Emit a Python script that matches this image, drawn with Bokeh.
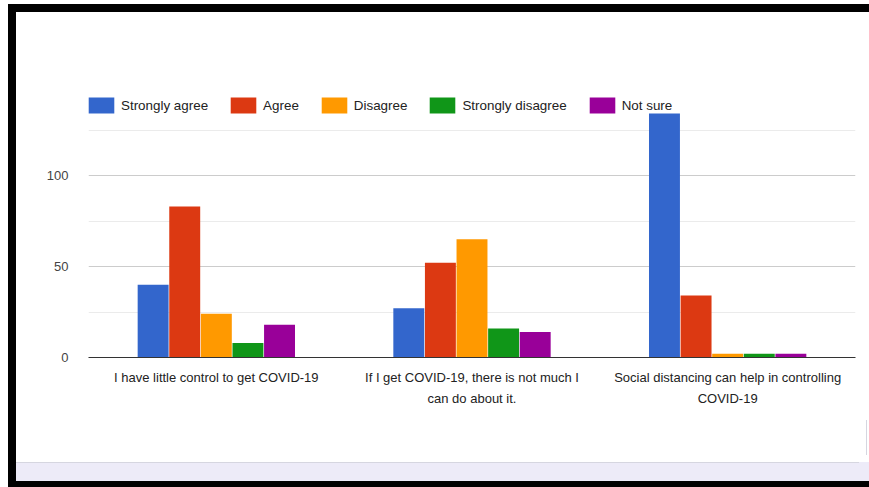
from bokeh.plotting import figure
from bokeh.models import (FactorRange, Range1d, FixedTicker, Legend, LegendItem,
                          ColumnDataSource)
from bokeh.transform import dodge
from bokeh.embed import file_html
from bokeh.resources import INLINE

categories = ["I have little control to get COVID-19",
              "If I get COVID-19, there is not much I\ncan do about it.",
              "Social distancing can help in controlling\nCOVID-19"]
series_names = ["Strongly agree", "Agree", "Disagree", "Strongly disagree", "Not sure"]
strongly_agree = [40, 27, 134]
agree = [83, 52, 34]
disagree = [24, 65, 2]
strongly_disagree = [8, 16, 2]
not_sure = [18, 14, 2]
y_ticks = [0, 50, 100]
y_minor_ticks = [25, 75, 125]
colors = ["#3366cc", "#dc3912", "#ff9900", "#109618", "#990099"]

FONT = "Liberation Sans, Arial, sans-serif"
W, H = 869, 487

p = figure(width=W, height=H, x_range=FactorRange(factors=categories, range_padding=0),
           y_range=Range1d(0, 150), output_backend="svg", toolbar_location=None,
           min_border_left=88, min_border_right=14, min_border_top=84, min_border_bottom=130)
p.background_fill_color = "white"
p.border_fill_alpha = 0
p.outline_line_color = None

# page decorations behind the transparent canvas border
def layer(color, x, y, w, h):
    return f"linear-gradient({color},{color}) {x}px {y}px / {w}px {h}px no-repeat"

p.styles = {"background": ", ".join([
    layer("black", 8, 4, W - 8, 8),
    layer("black", 8, 4, 8, H - 4),
    layer("black", 8, 481, W - 8, 6),
    layer("#d6d6e0", 16, 462, 843, 1),
    layer("#d6d6e0", 866, 420, 1, 35),
    layer("#edebf8", 16, 462, W - 16, 19),
    layer("white", 16, 12, 850, 450),
    "white",
]), "position": "absolute", "left": "0px", "top": "0px"}

data = dict(cat=categories, sa=strongly_agree, ag=agree, di=disagree,
            sd=strongly_disagree, ns=not_sure)
src = ColumnDataSource(data)
cols = ["sa", "ag", "di", "sd", "ns"]
slot = 0.1236
items = []
for i, (c, name, color) in enumerate(zip(cols, series_names, colors)):
    r = p.vbar(x=dodge("cat", (i - 2) * slot, range=p.x_range), top=c, width=0.121,
               source=src, fill_color=color, line_color=None)
    items.append(LegendItem(label=name, renderers=[r]))

legend = Legend(items=items, orientation="horizontal", location=(-3, 242),
                glyph_width=32, glyph_height=20, label_standoff=4, spacing=19,
                padding=0, margin=0, border_line_color=None, background_fill_alpha=0,
                label_text_font=FONT, label_text_font_size="13.4px",
                label_text_color="#222222", label_height=20)
p.add_layout(legend, "center")

# y axis
p.yaxis.ticker = FixedTicker(ticks=y_ticks, minor_ticks=y_minor_ticks)
p.yaxis.axis_line_color = None
p.yaxis.major_tick_line_color = None
p.yaxis.minor_tick_line_color = None
p.yaxis.major_label_text_font = FONT
p.yaxis.major_label_text_font_size = "13px"
p.yaxis.major_label_text_color = "#444444"
p.yaxis.major_label_standoff = 14
p.ygrid.grid_line_color = "#cccccc"
p.ygrid.minor_grid_line_color = "#ebebeb"
p.xgrid.grid_line_color = None

# x axis
p.xaxis.axis_line_color = "#333333"
p.xaxis.axis_line_width = 1
p.xaxis.major_tick_line_color = None
p.xaxis.minor_tick_line_color = None
p.xaxis.major_label_text_font = FONT
p.xaxis.major_label_text_font_size = "13px"
p.xaxis.major_label_text_color = "#222222"
p.xaxis.major_label_standoff = 6
p.xaxis.major_label_text_line_height = 1.45

open("out.html", "w").write(file_html(p, INLINE))
